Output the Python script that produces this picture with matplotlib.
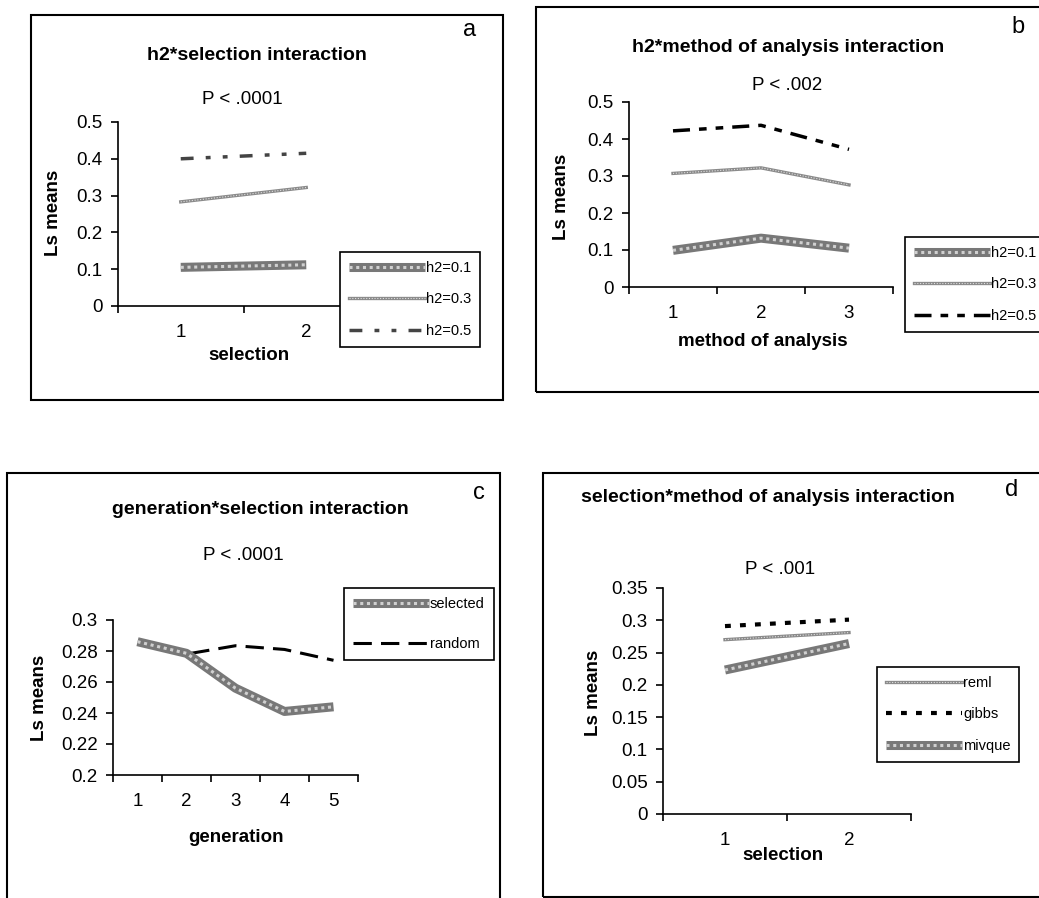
import numpy as np
import matplotlib.pyplot as plt
from matplotlib.patches import Rectangle

plt.rcParams['font.family'] = ['Liberation Sans', 'DejaVu Sans']

W, H = 1039, 898

# panel a: h2 * selection
sel_cats = [1, 2]
a_h01 = [0.105, 0.112]
a_h03 = [0.283, 0.322]
a_h05 = [0.400, 0.415]

# panel b: h2 * method of analysis
method_cats = [1, 2, 3]
b_h01 = [0.099, 0.132, 0.105]
b_h03 = [0.307, 0.322, 0.276]
b_h05 = [0.422, 0.437, 0.372]

# panel c: generation * selection
gen_cats = [1, 2, 3, 4, 5]
c_selected = [0.286, 0.2785, 0.256, 0.241, 0.244]
c_random = [0.285, 0.278, 0.2834, 0.281, 0.274]

# panel d: selection * method of analysis
d_reml = [0.270, 0.281]
d_gibbs = [0.291, 0.301]
d_mivque = [0.223, 0.264]

fig = plt.figure(figsize=(W / 100, H / 100), dpi=100)


def fx(px):
    return px / W


def fy(py):
    return 1 - py / H


def px_axes(x0, x1, ytop, ybot):
    return fig.add_axes([fx(x0), fy(ybot), (x1 - x0) / W, (ybot - ytop) / H])


def thick_hatch(ax, x, y):
    l1, = ax.plot(x, y, color='#787878', lw=6.5, solid_capstyle='butt')
    l2, = ax.plot(x, y, color='#d0d0d0', lw=2.2, ls=(0, (1, 1.2)))
    return (l1, l2)


def thin_hatch(ax, x, y):
    l1, = ax.plot(x, y, color='#8a8a8a', lw=2.4)
    l2, = ax.plot(x, y, color='#e0e0e0', lw=0.8, ls=(0, (1, 1.5)))
    return (l1, l2)


def style(ax, cats, ylim, yticks, ylabels):
    for s in ['top', 'right']:
        ax.spines[s].set_visible(False)
    for s in ['left', 'bottom']:
        ax.spines[s].set_linewidth(1.2)
    ax.set_facecolor('none')
    ax.set_xlim(0.5, len(cats) + 0.5)
    ax.set_ylim(*ylim)
    ax.set_xticks(cats)
    ax.set_xticklabels([str(c) for c in cats], fontsize=13.5)
    ax.set_xticks(np.arange(0.5, len(cats) + 1), minor=True)
    ax.tick_params(axis='x', which='major', length=0, pad=13)
    ax.tick_params(axis='x', which='minor', length=5, width=1.2, direction='out')
    ax.set_yticks(yticks)
    ax.set_yticklabels(ylabels, fontsize=13.5)
    ax.tick_params(axis='y', length=5, width=1.2, direction='out', pad=6)


def ftext(px, py, s, **kw):
    fig.text(fx(px), fy(py), s, ha='center', va='center', **kw)


def legend(ax, handles, labels, px, py, spacing=1.2):
    lg = ax.legend(handles, labels, loc='upper left', bbox_to_anchor=(fx(px), fy(py)),
                   bbox_transform=fig.transFigure, borderaxespad=0, fontsize=10.5,
                   handlelength=5.2, handletextpad=0.1, labelspacing=spacing,
                   fancybox=False, framealpha=1, edgecolor='black', borderpad=0.6)
    lg.get_frame().set_linewidth(1.2)
    return lg


# panel frames
for (x0, y0, x1, y1) in [(31, 15, 503, 400), (536, 7, 1045, 392),
                         (7, 473, 500, 905), (543, 473, 1045, 897)]:
    fig.patches.append(Rectangle((fx(x0), fy(y1)), (x1 - x0) / W, (y1 - y0) / H,
                                 transform=fig.transFigure, fill=False,
                                 edgecolor='black', lw=1.5))

# ---- a
ax = px_axes(118, 369, 122, 306)
h1 = thick_hatch(ax, sel_cats, a_h01)
h3 = thin_hatch(ax, sel_cats, a_h03)
h5, = ax.plot(sel_cats, a_h05, color='#444444', lw=2.5,
              dashes=(3.7, 3.5, 1.4, 3.5, 1.4, 3.5))
style(ax, sel_cats, (0, 0.5), [0, 0.1, 0.2, 0.3, 0.4, 0.5],
      ['0', '0.1', '0.2', '0.3', '0.4', '0.5'])
legend(ax, [h1, h3, h5], ['h2=0.1', 'h2=0.3', 'h2=0.5'], 340, 252)
ftext(257, 55, 'h2*selection interaction', fontsize=14, fontweight='bold')
ftext(242, 100, 'P < .0001', fontsize=13.5)
ftext(470, 30, 'a', fontsize=17)
ftext(249, 355, 'selection', fontsize=13.5, fontweight='bold')
ftext(53, 213, 'Ls means', fontsize=13.5, fontweight='bold', rotation=90)

# ---- b
ax = px_axes(629, 893, 102, 287)
h1 = thick_hatch(ax, method_cats, b_h01)
h3 = thin_hatch(ax, method_cats, b_h03)
h5, = ax.plot(method_cats, b_h05, color='black', lw=2.5,
              dashes=(4.9, 2.6, 2.2, 2.6, 2.2, 2.6))
style(ax, method_cats, (0, 0.5), [0, 0.1, 0.2, 0.3, 0.4, 0.5],
      ['0', '0.1', '0.2', '0.3', '0.4', '0.5'])
legend(ax, [h1, h3, h5], ['h2=0.1', 'h2=0.3', 'h2=0.5'], 905, 237)
ftext(788, 47, 'h2*method of analysis interaction', fontsize=14, fontweight='bold')
ftext(787, 85, 'P < .002', fontsize=13.5)
ftext(1018, 27, 'b', fontsize=17)
ftext(763, 342, 'method of analysis', fontsize=13.5, fontweight='bold')
ftext(562, 197, 'Ls means', fontsize=13.5, fontweight='bold', rotation=90)

# ---- c
ax = px_axes(113, 358, 620, 775)
hr, = ax.plot(gen_cats, c_random, color='black', lw=2.2, dashes=(6, 3))
hs = thick_hatch(ax, gen_cats, c_selected)
style(ax, gen_cats, (0.2, 0.3), [0.2, 0.22, 0.24, 0.26, 0.28, 0.3],
      ['0.2', '0.22', '0.24', '0.26', '0.28', '0.3'])
legend(ax, [hs, hr], ['selected', 'random'], 344, 588, spacing=1.8)
ftext(260, 510, 'generation*selection interaction', fontsize=14, fontweight='bold')
ftext(243, 555, 'P < .0001', fontsize=13.5)
ftext(479, 493, 'c', fontsize=17)
ftext(236, 837, 'generation', fontsize=13.5, fontweight='bold')
ftext(39, 698, 'Ls means', fontsize=13.5, fontweight='bold', rotation=90)

# ---- d
ax = px_axes(663, 911, 588, 814)
hg, = ax.plot(sel_cats, d_gibbs, color='black', lw=3, dashes=(1.4, 2.2))
hre = thin_hatch(ax, sel_cats, d_reml)
hm = thick_hatch(ax, sel_cats, d_mivque)
style(ax, sel_cats, (0, 0.35), [0, 0.05, 0.1, 0.15, 0.2, 0.25, 0.3, 0.35],
      ['0', '0.05', '0.1', '0.15', '0.2', '0.25', '0.3', '0.35'])
legend(ax, [hre, hg, hm], ['reml', 'gibbs', 'mivque'], 877, 667)
ftext(768, 498, 'selection*method of analysis interaction', fontsize=14, fontweight='bold')
ftext(780, 570, 'P < .001', fontsize=13.5)
ftext(1012, 490, 'd', fontsize=17)
ftext(783, 855, 'selection', fontsize=13.5, fontweight='bold')
ftext(593, 693, 'Ls means', fontsize=13.5, fontweight='bold', rotation=90)

fig.savefig('out.png', dpi=100)
